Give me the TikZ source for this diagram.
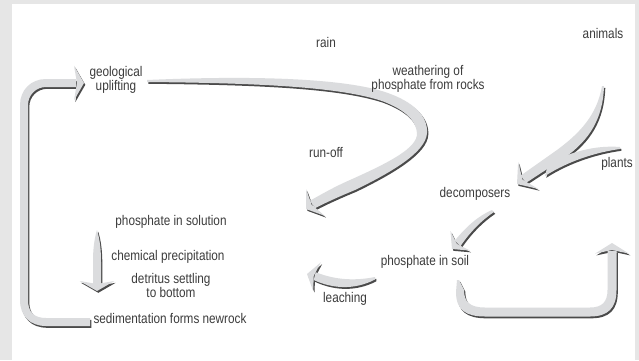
\documentclass[tikz,border=0pt]{standalone}
\usepackage{fontspec}
\setmainfont[FakeStretch=0.84]{Liberation Sans}
\usetikzlibrary{calc}

\definecolor{bggray}{HTML}{E6E6E6}
\definecolor{ribbon}{HTML}{DBDCDE}
\definecolor{ribbonshade}{HTML}{4A4A4A}
\definecolor{labelgray}{HTML}{3C3C3C}

% chevron head: tip, direction, barb length, half angle
\newcommand{\cyclehead}[4]{%
  \fill (#1) -- ($(#1)+(#2+180+#4:#3)$) -- ($(#1)+(#2+180:7)$)
    -- ($(#1)+(#2+180-#4:#3)$) -- cycle;}

\newcommand{\cyclearrows}{%
  % sedimentation -> geological uplifting
  \fill (90,318) -- (46,318) .. controls (34,318) and (28,312) .. (28,300)
    -- (28,105) .. controls (28,95) and (36,87) .. (46,87) -- (76,87)
    -- (76,79) -- (46,79) .. controls (31,79) and (20,90) .. (20,105)
    -- (20,300) .. controls (20,316) and (30,326) .. (46,326) -- (90,326) -- cycle;
  \cyclehead{84,83}{0}{20}{60}
  % weathering ribbon -> run-off
  \fill (147,80) .. controls (260,75) and (345,79) .. (385,92)
    .. controls (415,102) and (428,117) .. (427,133)
    .. controls (426,152) and (392,172) .. (355,190)
    .. controls (338,197) and (325,203) .. (315.2,208.1)
    -- (310,200.7) .. controls (322,194) and (334,187) .. (350,180)
    .. controls (388,163) and (418,148) .. (417,133)
    .. controls (416,121) and (406,110) .. (382,101)
    .. controls (340,87) and (260,83) .. (147,82) -- cycle;
  \cyclehead{306,209}{145}{20}{55}
  % animals -> decomposers
  \fill (604,86) .. controls (603,118) and (590,140) .. (564,158) -- (526.1,182.8)
    -- (520.7,175.6) -- (557,150) .. controls (580,133) and (597,115) .. (602,86) -- cycle;
  \cyclehead{517,184}{143}{22}{50}
  % plants branch
  \fill (620,147) .. controls (595,145) and (570,152) .. (548,164)
    -- (545,176) .. controls (570,160) and (598,152) .. (620,149) -- cycle;
  % decomposers -> phosphate in soil
  \fill (492,210) .. controls (478,216) and (466,227) .. (454.9,240.5)
    -- (460.5,246.1) .. controls (470,232) and (482,220) .. (494,212) -- cycle;
  \cyclehead{452,249}{135}{18}{50}
  % phosphate in soil -> leaching
  \fill (375,277) .. controls (355,281) and (335,280) .. (315.7,272.2)
    -- (313.7,280) .. controls (333,289) and (355,290) .. (375,279.5) -- cycle;
  \cyclehead{307,274}{195}{18}{55}
  % soil -> plants loop
  \fill (457,280) -- (456,292) .. controls (456,310) and (466,316.5) .. (485,316.5)
    -- (590,316.5) .. controls (608,316.5) and (616.5,308) .. (616.5,290)
    -- (616.5,251) -- (607.5,251) -- (607.5,290)
    .. controls (607.5,302) and (602,307.5) .. (590,307.5) -- (485,307.5)
    .. controls (470,307.5) and (464,302) .. (464,290) -- (459,280) -- cycle;
  \cyclehead{612,243}{-90}{20}{58}
  % precipitation arrow
  \fill (97,230) .. controls (100,240) and (101,250) .. (101,262) -- (101,284)
    -- (93,284) -- (93,262) .. controls (93,250) and (94,240) .. (97,230) -- cycle;
  \cyclehead{97,291}{90}{20}{60}
}

\tikzset{
  lbl/.style={text=labelgray, font=\fontsize{14}{14}\selectfont, align=center, anchor=base}
}

\begin{document}
\begin{tikzpicture}[x=1pt,y=-1pt]

\fill[bggray] (0,0) rectangle (639,360);
\fill[white] (12,4) rectangle (635,360);

\begin{scope}[shift={(1.3,1.8)},fill=ribbonshade]
\cyclearrows
\end{scope}
\begin{scope}[fill=ribbon]
\cyclearrows
\end{scope}

\node[lbl] (rain) at (326,47) {rain};
\node[lbl] (animals) at (603,38) {animals};
\node[lbl] (uplift) at (116,90) {geological\\uplifting};
\node[lbl] (weather) at (428,89) {weathering of\\phosphate from rocks};
\node[lbl] (runoff) at (326,157) {run-off};
\node[lbl] (plants) at (617,167) {plants};
\node[lbl] (decomp) at (475,197) {decomposers};
\node[lbl] (solution) at (171,225) {phosphate in solution};
\node[lbl] (precip) at (168,260) {chemical precipitation};
\node[lbl] (detritus) at (171,297) {detritus settling\\to bottom};
\node[lbl] (sediment) at (170,323) {sedimentation forms newrock};
\node[lbl] (soil) at (425,265) {phosphate in soil};
\node[lbl] (leach) at (345,302) {leaching};

\end{tikzpicture}
\end{document}
